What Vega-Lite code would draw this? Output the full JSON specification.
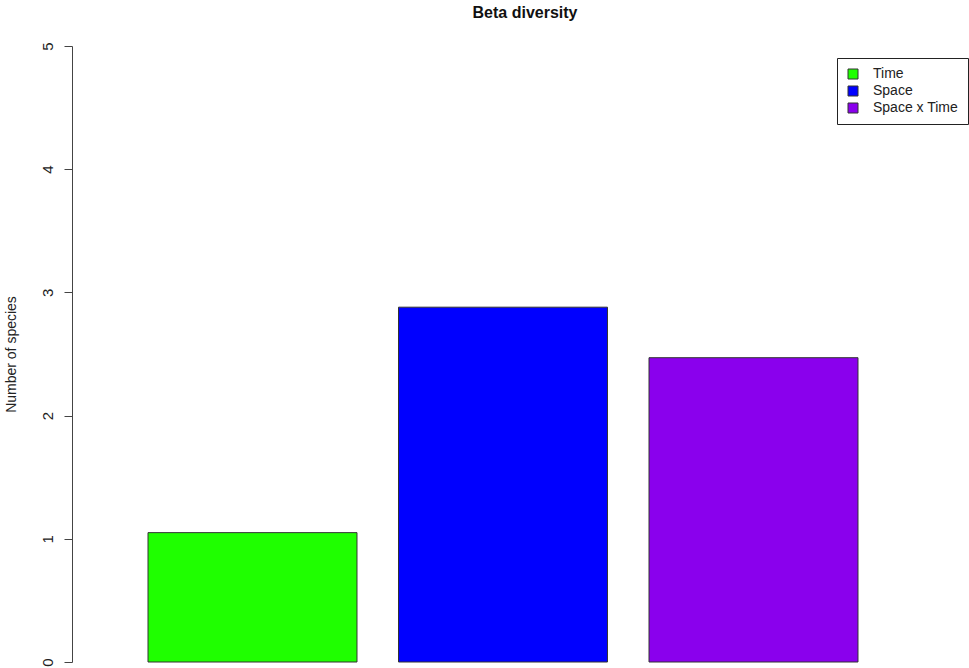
{
  "$schema": "https://vega.github.io/schema/vega-lite/v6.json",
  "autosize": {"type": "none"},
  "padding": {"left": 72, "top": 46, "right": 35, "bottom": 6},
  "width": 862,
  "height": 616,
  "background": "white",
  "config": {
    "view": {"stroke": null},
    "font": "Liberation Sans"
  },
  "title": {
    "text": "Beta diversity",
    "font": "Liberation Sans",
    "fontSize": 16,
    "fontWeight": "bold",
    "color": "#111",
    "anchor": "middle",
    "dx": 22,
    "offset": 21
  },
  "data": {
    "values": [
      {"group": "Time", "species": 1.05},
      {"group": "Space", "species": 2.88},
      {"group": "Space x Time", "species": 2.47}
    ]
  },
  "mark": {"type": "bar", "stroke": "#333", "strokeWidth": 1},
  "encoding": {
    "x": {
      "field": "group",
      "type": "nominal",
      "sort": ["Time", "Space", "Space x Time"],
      "scale": {"paddingInner": 0.1657, "paddingOuter": 0.3034},
      "axis": null
    },
    "y": {
      "field": "species",
      "type": "quantitative",
      "scale": {"domain": [0, 5], "nice": false},
      "axis": {
        "title": "Number of species",
        "titleFont": "Liberation Sans",
        "titleFontSize": 14,
        "titleFontWeight": "normal",
        "titleColor": "#222",
        "titlePadding": 22,
        "values": [0, 1, 2, 3, 4, 5],
        "grid": false,
        "domainColor": "#444",
        "tickColor": "#444",
        "tickSize": 8,
        "labelAngle": -90,
        "labelAlign": "center",
        "labelBaseline": "bottom",
        "labelPadding": 9,
        "labelFontSize": 15,
        "labelColor": "#222",
        "labelFont": "Liberation Sans"
      }
    },
    "color": {
      "field": "group",
      "type": "nominal",
      "scale": {
        "domain": ["Time", "Space", "Space x Time"],
        "range": ["#1fff00", "#0000ff", "#8a00ed"]
      },
      "legend": {
        "title": null,
        "orient": "none",
        "legendX": 765,
        "legendY": 12,
        "strokeColor": "#222",
        "padding": 9,
        "symbolType": "square",
        "symbolSize": 100,
        "symbolStrokeColor": "#333",
        "symbolStrokeWidth": 1,
        "labelFontSize": 14,
        "labelFont": "Liberation Sans",
        "labelColor": "#222",
        "labelOffset": 13,
        "rowPadding": 3,
        "fillColor": "white"
      }
    }
  }
}
